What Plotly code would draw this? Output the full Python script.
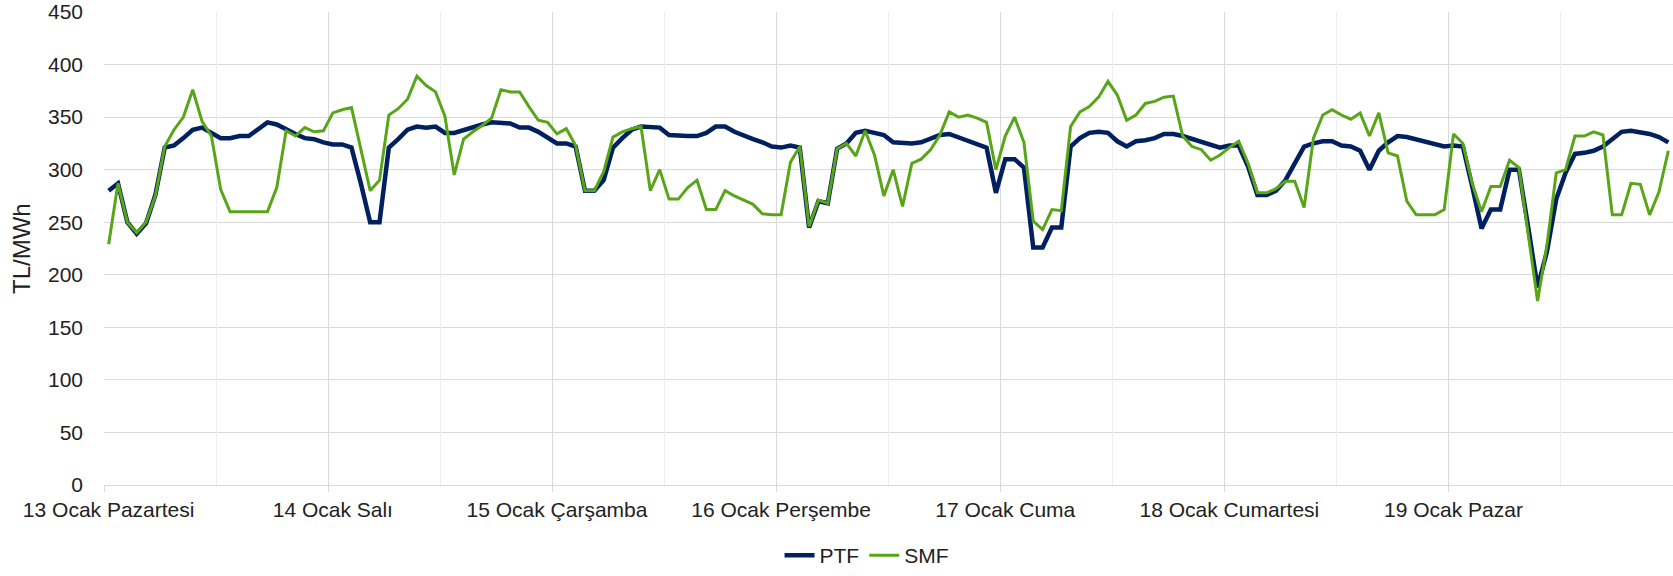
import plotly.graph_objects as go

day_labels = ["13 Ocak Pazartesi", "14 Ocak Salı", "15 Ocak Çarşamba", "16 Ocak Perşembe",
              "17 Ocak Cuma", "18 Ocak Cumartesi", "19 Ocak Pazar"]

ptf = [280, 287, 250, 239, 249, 276, 321, 323, 330, 338, 340, 335,
       330, 330, 332, 332, 339, 345, 343, 338, 334, 330, 329, 326,
       324, 324, 321, 287, 250, 250, 321, 329, 338, 341, 340, 341,
       335, 335, 338, 340, 343, 345, 345, 344, 340, 340, 336, 330,
       325, 325, 322, 280, 280, 290, 321, 330, 338, 341, 341, 340,
       333, 332, 332, 332, 335, 341, 341, 336, 332, 329, 326, 322,
       321, 323, 321, 245, 270, 268, 320, 325, 335, 337, 335, 333,
       326, 325, 325, 326, 329, 333, 334, 331, 327, 324, 321, 278,
       310, 310, 302, 226, 226, 245, 245, 322, 330, 335, 336, 335,
       327, 322, 327, 328, 330, 334, 334, 332, 329, 326, 324, 321,
       323, 323, 303, 276, 276, 280, 290, 306, 322, 325, 327, 327,
       323, 322, 318, 300, 318, 326, 332, 331, 329, 326, 324, 322,
       323, 322, 284, 244, 262, 262, 300, 300, 245, 188, 222, 272,
       297, 315, 316, 318, 322, 329, 336, 337, 336, 334, 331, 326]

smf = [229, 287, 250, 240, 250, 275, 322, 338, 350, 376, 346, 332,
       281, 260, 260, 260, 260, 260, 283, 337, 332, 340, 336, 337,
       354, 357, 359, 320, 280, 290, 352, 358, 367, 389, 380, 374,
       351, 295, 329, 336, 342, 349, 376, 374, 374, 360, 347, 345,
       334, 339, 323, 280, 280, 298, 331, 336, 339, 341, 280, 300,
       272, 272, 283, 290, 262, 262, 280, 275, 271, 267, 258, 257,
       257, 307, 322, 246, 271, 268, 320, 325, 313, 337, 314, 275,
       300, 265, 306, 310, 319, 333, 355, 350, 352, 349, 345, 300,
       332, 350, 326, 251, 243, 262, 261, 341, 355, 360, 369, 384,
       371, 347, 352, 363, 365, 369, 370, 332, 322, 319, 309, 314,
       321, 327, 306, 278, 278, 282, 289, 289, 264, 330, 352, 357,
       352, 348, 354, 332, 354, 316, 313, 270, 257, 257, 257, 262,
       334, 325, 287, 260, 284, 284, 309, 302, 240, 175, 228, 297,
       300, 332, 332, 336, 333, 257, 257, 287, 286, 257, 279, 318]

hours_per_day = 24
n = len(ptf)
x = list(range(n))
label_pos = [d * hours_per_day for d in range(len(day_labels))]
day_bounds = [d * hours_per_day - 0.5 for d in range(len(day_labels) + 1)]
half_bounds = [d * hours_per_day + 11.5 for d in range(len(day_labels))]

FONT = "Liberation Sans, Arial, sans-serif"
W, H = 1673, 576
L, R, T, B = 104, 0, 12, 89
PW, PH = W - L - R, H - T - B

fig = go.Figure()
fig.add_trace(go.Scatter(x=x, y=ptf, mode="lines", name="PTF",
                         line=dict(color="#002060", width=4.5)))
fig.add_trace(go.Scatter(x=x, y=smf, mode="lines", name="SMF",
                         line=dict(color="#58A618", width=3)))

# invisible trace for the secondary (half-day grid) axis
fig.add_trace(go.Scatter(x=[x[0]], y=[ptf[0]], xaxis="x2", mode="lines",
                         showlegend=False, hoverinfo="skip",
                         line=dict(width=0), opacity=0))

xr = [-0.5, n - 0.5]
fig.update_layout(
    width=W, height=H,
    margin=dict(l=L, r=R, t=T, b=B, pad=0),
    paper_bgcolor="white", plot_bgcolor="white",
    font=dict(family=FONT, size=21, color="#222222"),
    xaxis=dict(
        range=xr, tickmode="array", tickvals=label_pos, ticktext=day_labels,
        showgrid=False, zeroline=False, ticks="", ticklabelstandoff=10,
        showline=False,
        minor=dict(tickmode="array", tickvals=day_bounds, showgrid=True,
                   gridcolor="#d9d9d9", gridwidth=1.3, ticks="outside",
                   ticklen=6, tickcolor="#d9d9d9", tickwidth=1.3),
        tickfont=dict(size=21, family=FONT, color="#222222"),
    ),
    xaxis2=dict(
        range=xr, overlaying="x", matches="x", tickmode="array",
        tickvals=half_bounds, showticklabels=False, showgrid=True,
        gridcolor="#eeeeee", gridwidth=1.3, zeroline=False, ticks="",
        side="bottom",
    ),
    yaxis=dict(
        range=[0, 450], dtick=50, tick0=0, showgrid=True,
        gridcolor="#d9d9d9", gridwidth=1.3, zeroline=True,
        zerolinecolor="#d9d9d9", zerolinewidth=1.3,
        ticks="", ticklabelstandoff=20, ticklabeloverflow="allow",
        tickfont=dict(size=21, family=FONT, color="#222222"),
    ),
    legend=dict(orientation="h", x=0.486, xanchor="center",
                y=-0.149, yanchor="middle",
                font=dict(size=21, family=FONT, color="#222222"),
                bgcolor="rgba(0,0,0,0)"),
    annotations=[dict(text="TL/MWh", textangle=-90, showarrow=False,
                      xref="paper", yref="paper",
                      x=(22 - L) / PW, y=(487 - 250) / PH,
                      xanchor="center", yanchor="middle",
                      font=dict(size=24, family=FONT, color="#222222"))],
)

fig.write_html("out.html",
               config={"displayModeBar": False},
               post_script="document.body.style.margin='0';"
                           "document.body.style.overflow='hidden';")
